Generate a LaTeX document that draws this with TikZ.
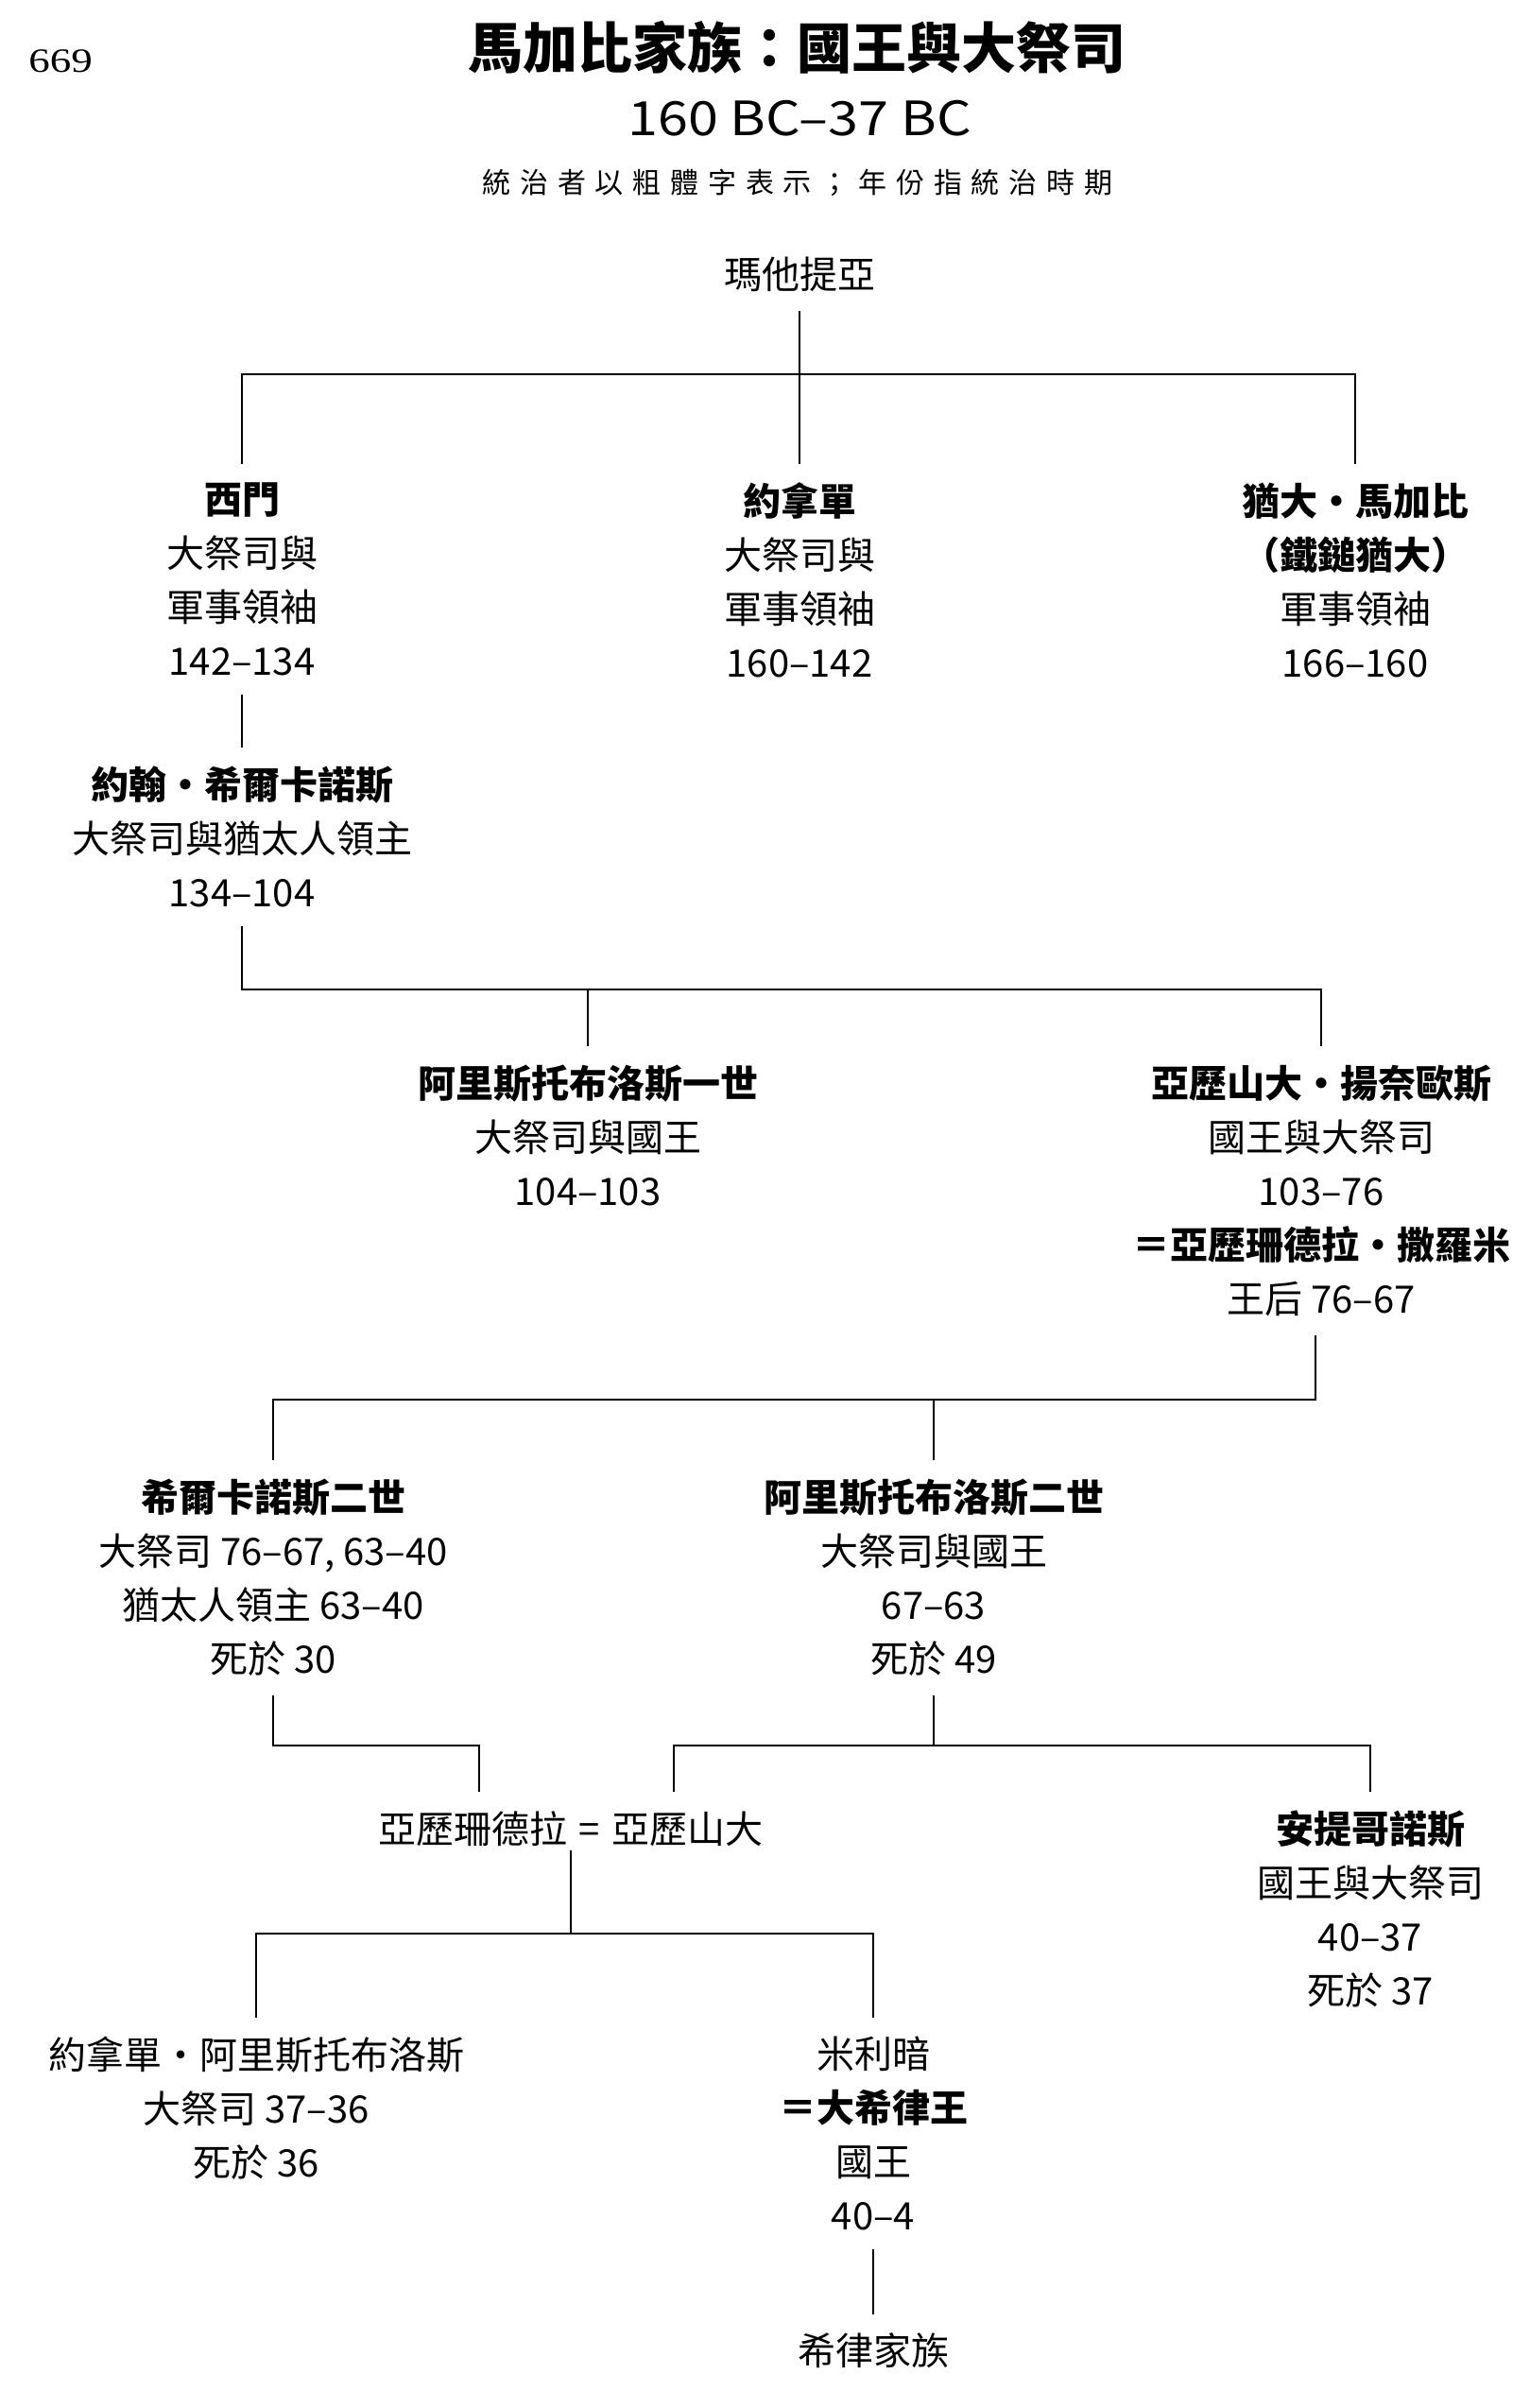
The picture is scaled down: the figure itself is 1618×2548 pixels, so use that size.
\documentclass[tikz,border=0pt]{standalone}
\usepackage{fontspec}
\setmainfont{Noto Sans CJK TC}
\newfontfamily\pagefont{Liberation Serif}
\newcommand\bodyfs{\fontsize{20pt}{28.5pt}\selectfont}
\newcommand\ls{\hspace{4.9pt}}
\begin{document}
\begin{tikzpicture}[x=0.5pt,y=-0.5pt,
  conn/.style={line width=1pt, black},
  person/.style={anchor=north, align=center, inner sep=0pt, outer xsep=0pt, outer ysep=10pt, font=\bodyfs},
  plain/.style={inner sep=0pt, outer xsep=0pt, outer ysep=10pt, font=\bodyfs}]
\useasboundingbox[fill=white] (0,0) rectangle (1618,2548);

% headings
\node[anchor=base, inner sep=0pt, font=\pagefont\fontsize{18pt}{20pt}\selectfont] (page) at (64,76) {\scalebox{1.25}[1]{669}};
\node[anchor=base, inner sep=0pt, font=\fontsize{29pt}{32pt}\selectfont\bfseries] (title) at (843,72) {馬加比家族：國王與大祭司};
\node[anchor=base, inner sep=0pt, font=\fontsize{25pt}{28pt}\selectfont] (dates) at (846,143) {\scalebox{1.15}[1]{160 BC–37 BC}};
\node[anchor=base, inner sep=0pt, font=\fontsize{15pt}{18pt}\selectfont] (note) at (844,204) {統\ls 治\ls 者\ls 以\ls 粗\ls 體\ls 字\ls 表\ls 示\ls ；\ls 年\ls 份\ls 指\ls 統\ls 治\ls 時\ls 期};

% people
\node[person] (mat) at (846,252) {瑪他提亞};
\node[person] (simon) at (256,491) {\textbf{西門}\\大祭司與\\軍事領袖\\142–134};
\node[person] (jonathan) at (846,491) {\textbf{約拿單}\\大祭司與\\軍事領袖\\160–142};
\node[person] (judas) at (1434,491) {\textbf{猶大・馬加比}\\\textbf{（鐵鎚猶大）}\\軍事領袖\\166–160};
\node[person] (john) at (256,791) {\textbf{約翰・希爾卡諾斯}\\大祭司與猶太人領主\\134–104};
\node[person] (aris1) at (622,1107) {\textbf{阿里斯托布洛斯一世}\\大祭司與國王\\104–103};
\node[person] (jannaeus) at (1398,1107) {\textbf{亞歷山大・揚奈歐斯}\\國王與大祭司\\103–76\\\textbf{＝亞歷珊德拉・撒羅米}\\王后 76–67};
\node[person] (hyrc2) at (289,1545) {\textbf{希爾卡諾斯二世}\\大祭司 76–67, 63–40\\猶太人領主 63–40\\死於 30};
\node[person] (aris2) at (988,1545) {\textbf{阿里斯托布洛斯二世}\\大祭司與國王\\67–63\\死於 49};
\node[plain, anchor=base east] (alexandra) at (600,1950) {亞歷珊德拉};
\node[plain, anchor=base, outer ysep=4pt] (eq) at (624,1950) {=};
\node[plain, anchor=base west] (alexander) at (647,1950) {亞歷山大};
\node[person] (antigonus) at (1450,1896) {\textbf{安提哥諾斯}\\國王與大祭司\\40–37\\死於 37};
\node[person] (jonar) at (271,2135) {約拿單・阿里斯托布洛斯\\大祭司 37–36\\死於 36};
\node[person] (mariamne) at (924,2135) {米利暗\\\textbf{＝大希律王}\\國王\\40–4};
\node[person] (herod) at (924,2449) {希律家族};

% junction points
\coordinate (j1) at (846,396);
\coordinate (j2) at (622,1047);
\coordinate (j3) at (988,1481);
\coordinate (j5) at (507,1847);
\coordinate (j6) at (713,1847);
\coordinate (j7) at (604,2046);

% connectors
\draw[conn] (mat.south) -- (mat.south |- j1);
\draw[conn] (simon.north) -- (simon.north |- j1) -- (judas.north |- j1) -- (judas.north);
\draw[conn] (jonathan.north) -- (jonathan.north |- j1);
\draw[conn] (simon.south) -- (john.north);
\draw[conn] (john.south) -- (john.south |- j2) -- (jannaeus.north |- j2) -- (jannaeus.north);
\draw[conn] (aris1.north) -- (aris1.north |- j2);
\draw[conn] ([xshift=-3pt]jannaeus.south) -- ([xshift=-3pt]jannaeus.south |- j3) -- (hyrc2.north |- j3) -- (hyrc2.north);
\draw[conn] (aris2.north) -- (aris2.north |- j3);
\draw[conn] (hyrc2.south) |- (j5) -- (j5 |- alexandra.north);
\draw[conn] (aris2.south) -- (aris2.south |- j6);
\draw[conn] (j6 |- alexander.north) -- (j6) -- (antigonus.north |- j6) -- (antigonus.north);
\draw[conn] ([xshift=-10pt]eq.south) -- (j7);
\draw[conn] (jonar.north) |- (mariamne.north |- j7) -- (mariamne.north);
\draw[conn] (mariamne.south) -- (herod.north);
\end{tikzpicture}
\end{document}
